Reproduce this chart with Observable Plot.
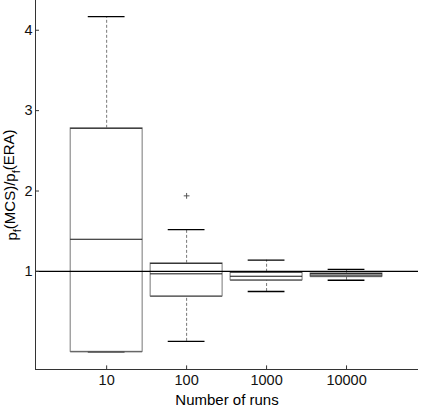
<!DOCTYPE html>
<html>
<head>
<meta charset="utf-8">
<script src="https://cdn.jsdelivr.net/npm/d3@7"></script>
<script src="https://cdn.jsdelivr.net/npm/@observablehq/plot@0.6"></script>
<style>
  html, body { margin: 0; padding: 0; background: #fff; }
  #chart svg { display: block; font-family: "Liberation Sans", Arial, sans-serif; }
</style>
</head>
<body>
<div id="chart"></div>
<script>
// Data
const runs = ["10", "100", "1000", "10000"];
const positions = [1, 2, 3, 4];
const lowerWhisker = [0.00, 0.13, 0.75, 0.89];
const q1 = [0.00, 0.69, 0.89, 0.935];
const median = [1.40, 0.97, 0.94, 0.955];
const q3 = [2.78, 1.10, 0.99, 0.975];
const upperWhisker = [4.17, 1.52, 1.14, 1.025];
const outlierRun = ["100"];
const outlierValue = [1.94];
const yTicks = [1, 2, 3, 4];
const yTickLabels = ["1", "2", "3", "4"];
const referenceValue = [1];

const xDomain = [0.11, 4.9];
const yDomain = [-0.22, 4.37];
const boxHalf = 0.45;
const capHalf = 0.23;

const boxes = runs.map((r, i) => ({
  run: r, pos: positions[i], lo: lowerWhisker[i], q1: q1[i], med: median[i], q3: q3[i], hi: upperWhisker[i]
}));
const outliers = outlierRun.map((r, i) => ({ pos: positions[runs.indexOf(r)], value: outlierValue[i] }));

const font = "Liberation Sans, Arial, sans-serif";

const plot = Plot.plot({
  width: 423,
  height: 410,
  marginLeft: 35,
  marginRight: 5,
  marginTop: 0,
  marginBottom: 41,
  style: { fontFamily: font, background: "#fff" },
  x: { type: "linear", domain: xDomain, axis: null },
  y: { type: "linear", domain: yDomain, axis: null },
  marks: [
    // whiskers (dashed)
    Plot.ruleX(boxes, { x: "pos", y1: "q3", y2: "hi", stroke: "#777", strokeDasharray: "3,2" }),
    Plot.ruleX(boxes, { x: "pos", y1: "lo", y2: "q1", stroke: "#777", strokeDasharray: "3,2" }),
    // whisker caps
    Plot.ruleY(boxes, { y: "hi", x1: d => d.pos - capHalf, x2: d => d.pos + capHalf, stroke: "#000", strokeWidth: 1.4 }),
    Plot.ruleY(boxes, { y: "lo", x1: d => d.pos - capHalf, x2: d => d.pos + capHalf, stroke: "#000", strokeWidth: 1.4 }),
    // boxes
    Plot.rect(boxes, { x1: d => d.pos - boxHalf, x2: d => d.pos + boxHalf, y1: "q1", y2: "q3", fill: "none", stroke: "#777", strokeWidth: 1 }),
    Plot.ruleY(boxes, { y: "q3", x1: d => d.pos - boxHalf, x2: d => d.pos + boxHalf, stroke: "#222", strokeWidth: 1 }),
    Plot.ruleY(boxes, { y: "q1", x1: d => d.pos - boxHalf, x2: d => d.pos + boxHalf, stroke: "#555", strokeWidth: 1 }),
    // medians
    Plot.ruleY(boxes, { y: "med", x1: d => d.pos - boxHalf, x2: d => d.pos + boxHalf, stroke: "#111", strokeWidth: 1 }),
    // outliers
    Plot.dot(outliers, { x: "pos", y: "value", symbol: "plus", r: 2, stroke: "#555", strokeWidth: 1 }),
    // reference line
    Plot.ruleY(referenceValue, { x1: xDomain[0], x2: xDomain[1], stroke: "#000", strokeWidth: 1.2 }),
    // axis lines
    Plot.ruleX([xDomain[0]], { y1: yDomain[0], y2: yDomain[1], stroke: "#333" }),
    Plot.ruleY([yDomain[0]], { x1: xDomain[0], x2: xDomain[1], stroke: "#333" }),
    // inward ticks
    Plot.ruleY(yTicks, { x1: xDomain[0], x2: xDomain[0] + 0.05, stroke: "#333" }),
    Plot.ruleX(positions, { y1: yDomain[0], y2: yDomain[0] + 0.045, stroke: "#333" }),
    // tick labels
    Plot.axisY(yTicks, { tickSize: 0, tickPadding: 3, fontSize: 14.5, label: null, tickFormat: d => yTickLabels[yTicks.indexOf(d)], fill: "#111" }),
    Plot.axisX(positions, { tickSize: 0, tickPadding: 5, fontSize: 14.5, label: null, tickFormat: d => runs[positions.indexOf(d)], fill: "#111" }),
    // x label
    Plot.text(["Number of runs"], { frameAnchor: "bottom", lineAnchor: "bottom", dy: 35, fontSize: 15, fill: "#000" })
  ]
});

document.getElementById("chart").appendChild(plot);

// y label with subscripts
const svg = d3.select(plot);
const yl = svg.append("text")
  .attr("transform", "translate(17,185) rotate(-90)")
  .attr("text-anchor", "middle")
  .attr("font-size", 15)
  .attr("fill", "#000")
  .attr("font-family", font);
const parts = [["p", false], ["f", true], ["(MCS)/p", false], ["f", true], ["(ERA)", false]];
let shifted = false;
for (const [t, sub] of parts) {
  const ts = yl.append("tspan").text(t);
  if (sub && !shifted) { ts.attr("dy", "0.4em").attr("font-size", 11); shifted = true; }
  else if (!sub && shifted) { ts.attr("dy", "-0.4em"); shifted = false; }
  else if (sub) { ts.attr("font-size", 11); }
}
</script>
</body>
</html>
